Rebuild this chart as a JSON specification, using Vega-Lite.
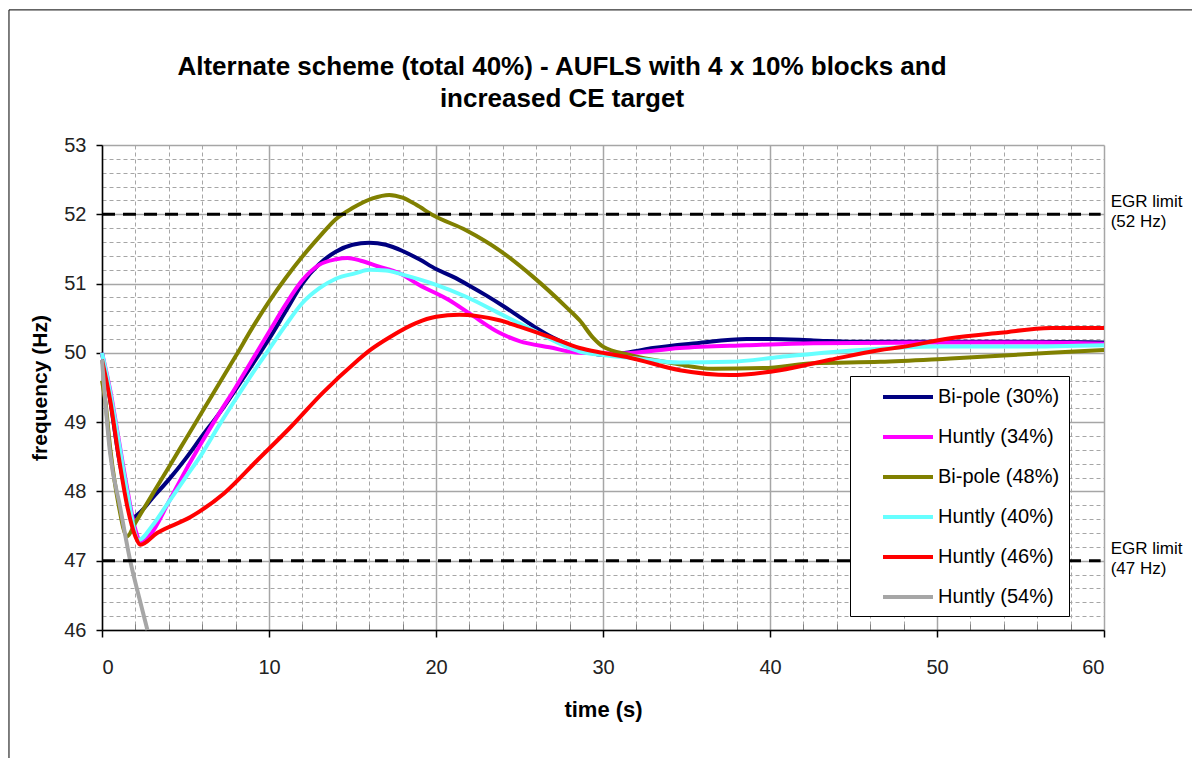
{
  "$schema": "https://vega.github.io/schema/vega-lite/v6.json",
  "width": 1002,
  "height": 485,
  "autosize": {"type": "none"},
  "padding": {"left": 102, "top": 145, "right": 88, "bottom": 128},
  "background": "white",
  "config": {"font": "Liberation Sans", "view": {"stroke": null}},
  "title": {
    "text": ["Alternate scheme (total 40%) - AUFLS with 4 x 10% blocks and", "increased CE target"],
    "fontSize": 26, "font": "Liberation Sans", "fontWeight": "bold", "color": "#000",
    "anchor": "middle", "dx": -41, "offset": -103, "lineHeight": 32
  },
  "datasets": {
    "curves": [
      {"s":"Bi-pole (30%)","t":0,"f":50.0},{"s":"Bi-pole (30%)","t":0.5,"f":49.3},{"s":"Bi-pole (30%)","t":1.0,"f":48.5},{"s":"Bi-pole (30%)","t":1.5,"f":47.9},{"s":"Bi-pole (30%)","t":1.8,"f":47.62},{"s":"Bi-pole (30%)","t":2.2,"f":47.68},{"s":"Bi-pole (30%)","t":3,"f":47.9},{"s":"Bi-pole (30%)","t":4,"f":48.17},{"s":"Bi-pole (30%)","t":5,"f":48.47},{"s":"Bi-pole (30%)","t":6,"f":48.8},{"s":"Bi-pole (30%)","t":7,"f":49.12},{"s":"Bi-pole (30%)","t":8,"f":49.47},{"s":"Bi-pole (30%)","t":9,"f":49.83},{"s":"Bi-pole (30%)","t":10,"f":50.2},{"s":"Bi-pole (30%)","t":11,"f":50.6},{"s":"Bi-pole (30%)","t":12,"f":51.0},{"s":"Bi-pole (30%)","t":13,"f":51.28},{"s":"Bi-pole (30%)","t":14,"f":51.46},{"s":"Bi-pole (30%)","t":15,"f":51.56},{"s":"Bi-pole (30%)","t":16,"f":51.59},{"s":"Bi-pole (30%)","t":17,"f":51.56},{"s":"Bi-pole (30%)","t":18,"f":51.47},{"s":"Bi-pole (30%)","t":19,"f":51.35},{"s":"Bi-pole (30%)","t":20,"f":51.21},{"s":"Bi-pole (30%)","t":21,"f":51.1},{"s":"Bi-pole (30%)","t":22,"f":50.97},{"s":"Bi-pole (30%)","t":23,"f":50.83},{"s":"Bi-pole (30%)","t":24,"f":50.68},{"s":"Bi-pole (30%)","t":25,"f":50.52},{"s":"Bi-pole (30%)","t":26,"f":50.36},{"s":"Bi-pole (30%)","t":27,"f":50.22},{"s":"Bi-pole (30%)","t":28,"f":50.11},{"s":"Bi-pole (30%)","t":29,"f":50.02},{"s":"Bi-pole (30%)","t":30,"f":49.97},{"s":"Bi-pole (30%)","t":31.6,"f":50.01},{"s":"Bi-pole (30%)","t":33,"f":50.07},{"s":"Bi-pole (30%)","t":35.6,"f":50.14},{"s":"Bi-pole (30%)","t":38.6,"f":50.2},{"s":"Bi-pole (30%)","t":40,"f":50.2},{"s":"Bi-pole (30%)","t":42.6,"f":50.18},{"s":"Bi-pole (30%)","t":45,"f":50.16},{"s":"Bi-pole (30%)","t":50,"f":50.16},{"s":"Bi-pole (30%)","t":55,"f":50.16},{"s":"Bi-pole (30%)","t":60,"f":50.15},

      {"s":"Huntly (34%)","t":0,"f":50.0},{"s":"Huntly (34%)","t":0.5,"f":49.45},{"s":"Huntly (34%)","t":1.0,"f":48.75},{"s":"Huntly (34%)","t":1.5,"f":48.05},{"s":"Huntly (34%)","t":2.0,"f":47.45},{"s":"Huntly (34%)","t":2.3,"f":47.28},{"s":"Huntly (34%)","t":2.9,"f":47.38},{"s":"Huntly (34%)","t":4,"f":47.85},{"s":"Huntly (34%)","t":5,"f":48.3},{"s":"Huntly (34%)","t":6,"f":48.72},{"s":"Huntly (34%)","t":7,"f":49.12},{"s":"Huntly (34%)","t":8,"f":49.5},{"s":"Huntly (34%)","t":9,"f":49.9},{"s":"Huntly (34%)","t":10,"f":50.3},{"s":"Huntly (34%)","t":11,"f":50.7},{"s":"Huntly (34%)","t":12,"f":51.05},{"s":"Huntly (34%)","t":13,"f":51.27},{"s":"Huntly (34%)","t":14,"f":51.35},{"s":"Huntly (34%)","t":14.7,"f":51.37},{"s":"Huntly (34%)","t":15.5,"f":51.33},{"s":"Huntly (34%)","t":16.5,"f":51.25},{"s":"Huntly (34%)","t":17.8,"f":51.15},{"s":"Huntly (34%)","t":19,"f":50.98},{"s":"Huntly (34%)","t":20.8,"f":50.76},{"s":"Huntly (34%)","t":22,"f":50.57},{"s":"Huntly (34%)","t":23.8,"f":50.29},{"s":"Huntly (34%)","t":25,"f":50.17},{"s":"Huntly (34%)","t":26.8,"f":50.08},{"s":"Huntly (34%)","t":28.6,"f":50.0},{"s":"Huntly (34%)","t":31,"f":49.99},{"s":"Huntly (34%)","t":34.6,"f":50.07},{"s":"Huntly (34%)","t":38.6,"f":50.11},{"s":"Huntly (34%)","t":42.6,"f":50.14},{"s":"Huntly (34%)","t":50,"f":50.15},{"s":"Huntly (34%)","t":56,"f":50.15},{"s":"Huntly (34%)","t":60,"f":50.13},

      {"s":"Bi-pole (48%)","t":0,"f":49.6},{"s":"Bi-pole (48%)","t":0.2,"f":49.3},{"s":"Bi-pole (48%)","t":0.5,"f":48.6},{"s":"Bi-pole (48%)","t":1.0,"f":47.8},{"s":"Bi-pole (48%)","t":1.5,"f":47.35},{"s":"Bi-pole (48%)","t":2,"f":47.55},{"s":"Bi-pole (48%)","t":3,"f":47.95},{"s":"Bi-pole (48%)","t":4,"f":48.35},{"s":"Bi-pole (48%)","t":5,"f":48.75},{"s":"Bi-pole (48%)","t":6,"f":49.15},{"s":"Bi-pole (48%)","t":7,"f":49.55},{"s":"Bi-pole (48%)","t":8,"f":49.95},{"s":"Bi-pole (48%)","t":9,"f":50.36},{"s":"Bi-pole (48%)","t":10,"f":50.74},{"s":"Bi-pole (48%)","t":11,"f":51.08},{"s":"Bi-pole (48%)","t":12,"f":51.39},{"s":"Bi-pole (48%)","t":13,"f":51.67},{"s":"Bi-pole (48%)","t":14,"f":51.93},{"s":"Bi-pole (48%)","t":15,"f":52.09},{"s":"Bi-pole (48%)","t":16.2,"f":52.23},{"s":"Bi-pole (48%)","t":17.2,"f":52.28},{"s":"Bi-pole (48%)","t":18.0,"f":52.24},{"s":"Bi-pole (48%)","t":18.8,"f":52.14},{"s":"Bi-pole (48%)","t":19.8,"f":51.99},{"s":"Bi-pole (48%)","t":21.8,"f":51.77},{"s":"Bi-pole (48%)","t":23.8,"f":51.48},{"s":"Bi-pole (48%)","t":25.8,"f":51.1},{"s":"Bi-pole (48%)","t":27.8,"f":50.66},{"s":"Bi-pole (48%)","t":28.6,"f":50.47},{"s":"Bi-pole (48%)","t":29.4,"f":50.22},{"s":"Bi-pole (48%)","t":30,"f":50.09},{"s":"Bi-pole (48%)","t":31.6,"f":49.97},{"s":"Bi-pole (48%)","t":34.2,"f":49.85},{"s":"Bi-pole (48%)","t":36.6,"f":49.77},{"s":"Bi-pole (48%)","t":39.6,"f":49.78},{"s":"Bi-pole (48%)","t":42.6,"f":49.85},{"s":"Bi-pole (48%)","t":46.6,"f":49.87},{"s":"Bi-pole (48%)","t":50.8,"f":49.92},{"s":"Bi-pole (48%)","t":56.8,"f":50.0},{"s":"Bi-pole (48%)","t":60,"f":50.04},

      {"s":"Huntly (40%)","t":0,"f":50.0},{"s":"Huntly (40%)","t":0.5,"f":49.42},{"s":"Huntly (40%)","t":1.0,"f":48.72},{"s":"Huntly (40%)","t":1.5,"f":48.0},{"s":"Huntly (40%)","t":2.2,"f":47.3},{"s":"Huntly (40%)","t":3,"f":47.5},{"s":"Huntly (40%)","t":4,"f":47.85},{"s":"Huntly (40%)","t":5,"f":48.2},{"s":"Huntly (40%)","t":6,"f":48.55},{"s":"Huntly (40%)","t":7,"f":48.95},{"s":"Huntly (40%)","t":8,"f":49.33},{"s":"Huntly (40%)","t":9,"f":49.7},{"s":"Huntly (40%)","t":10,"f":50.05},{"s":"Huntly (40%)","t":11,"f":50.4},{"s":"Huntly (40%)","t":12,"f":50.72},{"s":"Huntly (40%)","t":13,"f":50.93},{"s":"Huntly (40%)","t":14,"f":51.07},{"s":"Huntly (40%)","t":15.2,"f":51.15},{"s":"Huntly (40%)","t":16,"f":51.2},{"s":"Huntly (40%)","t":17,"f":51.19},{"s":"Huntly (40%)","t":18,"f":51.13},{"s":"Huntly (40%)","t":19.8,"f":51.0},{"s":"Huntly (40%)","t":21.8,"f":50.81},{"s":"Huntly (40%)","t":23.8,"f":50.57},{"s":"Huntly (40%)","t":25.8,"f":50.33},{"s":"Huntly (40%)","t":27.8,"f":50.09},{"s":"Huntly (40%)","t":28.6,"f":50.02},{"s":"Huntly (40%)","t":30,"f":49.97},{"s":"Huntly (40%)","t":32,"f":49.92},{"s":"Huntly (40%)","t":34.6,"f":49.86},{"s":"Huntly (40%)","t":37.6,"f":49.87},{"s":"Huntly (40%)","t":40.6,"f":49.94},{"s":"Huntly (40%)","t":43.6,"f":50.01},{"s":"Huntly (40%)","t":46.6,"f":50.06},{"s":"Huntly (40%)","t":50,"f":50.09},{"s":"Huntly (40%)","t":55,"f":50.09},{"s":"Huntly (40%)","t":60,"f":50.11},

      {"s":"Huntly (46%)","t":0,"f":49.9},{"s":"Huntly (46%)","t":0.5,"f":49.3},{"s":"Huntly (46%)","t":1.0,"f":48.5},{"s":"Huntly (46%)","t":1.5,"f":47.8},{"s":"Huntly (46%)","t":2.0,"f":47.35},{"s":"Huntly (46%)","t":2.3,"f":47.23},{"s":"Huntly (46%)","t":3.3,"f":47.4},{"s":"Huntly (46%)","t":5.3,"f":47.63},{"s":"Huntly (46%)","t":7.3,"f":47.97},{"s":"Huntly (46%)","t":9.3,"f":48.45},{"s":"Huntly (46%)","t":11.3,"f":48.93},{"s":"Huntly (46%)","t":13.2,"f":49.42},{"s":"Huntly (46%)","t":15.25,"f":49.88},{"s":"Huntly (46%)","t":16.05,"f":50.04},{"s":"Huntly (46%)","t":17.25,"f":50.23},{"s":"Huntly (46%)","t":18.8,"f":50.43},{"s":"Huntly (46%)","t":20,"f":50.52},{"s":"Huntly (46%)","t":21.4,"f":50.55},{"s":"Huntly (46%)","t":22.5,"f":50.53},{"s":"Huntly (46%)","t":23.8,"f":50.47},{"s":"Huntly (46%)","t":25,"f":50.38},{"s":"Huntly (46%)","t":26.8,"f":50.23},{"s":"Huntly (46%)","t":28.6,"f":50.07},{"s":"Huntly (46%)","t":30,"f":50.0},{"s":"Huntly (46%)","t":31.6,"f":49.93},{"s":"Huntly (46%)","t":34.6,"f":49.75},{"s":"Huntly (46%)","t":37.6,"f":49.68},{"s":"Huntly (46%)","t":40.6,"f":49.75},{"s":"Huntly (46%)","t":43.6,"f":49.9},{"s":"Huntly (46%)","t":46.6,"f":50.04},{"s":"Huntly (46%)","t":47.8,"f":50.08},{"s":"Huntly (46%)","t":50.8,"f":50.21},{"s":"Huntly (46%)","t":53.8,"f":50.29},{"s":"Huntly (46%)","t":56.8,"f":50.36},{"s":"Huntly (46%)","t":60,"f":50.36},

      {"s":"Huntly (54%)","t":0,"f":49.9},{"s":"Huntly (54%)","t":0.48,"f":48.56},{"s":"Huntly (54%)","t":1.08,"f":47.78},{"s":"Huntly (54%)","t":1.68,"f":47.01},{"s":"Huntly (54%)","t":2.16,"f":46.53},{"s":"Huntly (54%)","t":2.72,"f":46.0}
    ],
    "limits": [
      {"name": "EGR limit (52 Hz)", "label": "EGR limit\n(52 Hz)", "f": 52, "t0": 0, "t1": 59.8},
      {"name": "EGR limit (47 Hz)", "label": "EGR limit\n(47 Hz)", "f": 47, "t0": 0, "t1": 59.8}
    ]
  },
  "layer": [
    {
      "data": {"values": [{"part": "chart border"}]},
      "mark": {"type": "rect", "filled": false, "stroke": "#000", "strokeWidth": 1},
      "encoding": {
        "x": {"datum": -5.57, "type": "quantitative", "scale": {"domain": [0, 60], "nice": false},
          "axis": {"orient": "bottom", "title": null, "values": [2,4,6,8,12,14,16,18,22,24,26,28,32,34,36,38,42,44,46,48,52,54,56,58],
            "grid": true, "gridDash": [4, 3], "gridColor": "#a6a6a6", "gridWidth": 1, "labels": false, "domain": false,
            "ticks": true, "tickSize": -6, "tickColor": "#7f7f7f", "tickWidth": 1}},
        "x2": {"datum": 80},
        "y": {"datum": 54.95, "type": "quantitative", "scale": {"domain": [46, 53], "nice": false},
          "axis": {"orient": "left", "title": null, "values": [46.2,46.4,46.6,46.8,47.2,47.4,47.6,47.8,48.2,48.4,48.6,48.8,49.2,49.4,49.6,49.8,50.2,50.4,50.6,50.8,51.2,51.4,51.6,51.8,52.2,52.4,52.6,52.8],
            "grid": true, "gridDash": [4, 3], "gridColor": "#a6a6a6", "gridWidth": 1, "labels": false, "domain": false, "ticks": false}},
        "y2": {"datum": 30}
      }
    },
    {
      "data": {"name": "curves"},
      "mark": {"type": "line", "strokeWidth": 4, "interpolate": "monotone"},
      "encoding": {
        "x": {"field": "t", "type": "quantitative", "scale": {"domain": [0, 60], "nice": false},
          "axis": {"orient": "bottom", "values": [0,10,20,30,40,50,60], "format": "d", "grid": true, "gridColor": "#a6a6a6", "gridWidth": 1.5,
            "domainColor": "#000", "domainWidth": 1.5, "tickColor": "#000", "tickSize": 7, "tickWidth": 1.5,
            "labelFontSize": 20, "labelColor": "#222", "labelPadding": 20, "labelFont": "Liberation Sans",
            "title": "time (s)", "titleFontSize": 22, "titleFontWeight": "bold", "titleColor": "#000", "titlePadding": 22, "titleFont": "Liberation Sans"}},
        "y": {"field": "f", "type": "quantitative", "scale": {"domain": [46, 53], "nice": false},
          "axis": {"orient": "left", "values": [46,47,48,49,50,51,52,53], "format": "d", "grid": true, "gridColor": "#a6a6a6", "gridWidth": 1.5,
            "domainColor": "#000", "domainWidth": 1.5, "tickColor": "#000", "tickSize": 6, "tickWidth": 1.5,
            "labelFontSize": 20, "labelColor": "#222", "labelPadding": 10, "labelFont": "Liberation Sans",
            "title": "frequency (Hz)", "titleFontSize": 21, "titleFontWeight": "bold", "titleColor": "#000", "titlePadding": 13, "titleFont": "Liberation Sans"}},
        "color": {"field": "s", "type": "nominal",
          "scale": {"domain": ["Bi-pole (30%)", "Huntly (34%)", "Bi-pole (48%)", "Huntly (40%)", "Huntly (46%)", "Huntly (54%)"],
            "range": ["#000080", "#ff00ff", "#808000", "#66ffff", "#ff0000", "#a6a6a6"]},
          "legend": {"title": null, "orient": "none", "legendX": 748, "legendY": 231, "fillColor": "white", "strokeColor": "#000",
            "padding": 9, "symbolType": "M-2.5,0H2.5", "symbolSize": 400, "symbolStrokeWidth": 4, "symbolOffset": 37,
            "labelFontSize": 20, "labelFont": "Liberation Sans", "labelColor": "#000", "labelOffset": 18, "labelLimit": 300, "rowPadding": 18}}
      }
    },
    {
      "data": {"name": "limits"},
      "mark": {"type": "rule", "strokeDash": [13, 8], "strokeWidth": 3, "color": "#000"},
      "encoding": {
        "x": {"field": "t0", "type": "quantitative", "scale": {"domain": [0, 60], "nice": false}, "axis": null},
        "x2": {"field": "t1"},
        "y": {"field": "f", "type": "quantitative", "scale": {"domain": [46, 53], "nice": false}, "axis": null}
      }
    },
    {
      "data": {"name": "limits"},
      "mark": {"type": "text", "align": "left", "baseline": "middle", "lineBreak": "\n", "fontSize": 17, "lineHeight": 20, "dy": -12, "color": "#000", "font": "Liberation Sans"},
      "encoding": {
        "x": {"datum": 60.4, "type": "quantitative", "scale": {"domain": [0, 60], "nice": false}, "axis": null},
        "y": {"field": "f", "type": "quantitative", "scale": {"domain": [46, 53], "nice": false}, "axis": null},
        "text": {"field": "label"}
      }
    }
  ],
  "resolve": {"axis": {"x": "independent", "y": "independent"}}
}
